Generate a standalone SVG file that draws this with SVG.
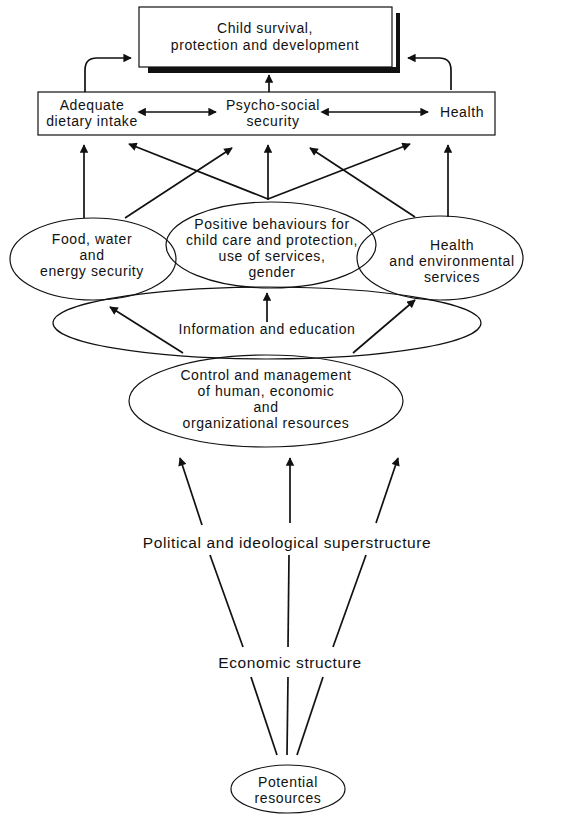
<svg xmlns="http://www.w3.org/2000/svg" width="569" height="815" viewBox="0 0 569 815">
<style>
text{font-family:"Liberation Sans",Arial,sans-serif;font-size:14px;letter-spacing:0.6px;fill:#111;text-anchor:middle}
text.big{font-size:15.5px;letter-spacing:0.6px}
.shape{fill:none;stroke:#111;stroke-width:1.2}
.c{fill:none;stroke:#111;stroke-width:1.7}
</style>
<defs>
<marker id="ah" viewBox="0 0 10 10" refX="9" refY="5" markerWidth="5.5" markerHeight="5" orient="auto" markerUnits="strokeWidth">
<path d="M0,0 L10,5 L0,10 Z" fill="#111"/>
</marker>
<marker id="as" viewBox="0 0 10 10" refX="1" refY="5" markerWidth="5.5" markerHeight="5" orient="auto-start-reverse" markerUnits="strokeWidth">
<path d="M0,0 L10,5 L0,10 Z" fill="#111"/>
</marker>
</defs>
<rect width="569" height="815" fill="#fff"/>

<g id="top">
<path d="M148,67 H396 V13 H400 V73 H148 Z" fill="#111"/>
<rect class="shape" x="139" y="7" width="253" height="60" fill="#fff"/>
<text x="265" y="33">Child survival,</text>
<text x="265" y="50">protection and development</text>
</g>

<g id="outcomes">
<rect class="shape" x="38" y="92" width="457" height="43" fill="#fff"/>
<text x="92" y="110">Adequate</text>
<text x="92" y="126">dietary intake</text>
<text x="273" y="110">Psycho-social</text>
<text x="273" y="126">security</text>
<text x="462" y="117">Health</text>
</g>

<g id="info">
<ellipse class="shape" cx="267" cy="323" rx="214" ry="36"/>
<text x="267" y="334">Information and education</text>
</g>

<g id="food">
<ellipse class="shape" cx="93" cy="259" rx="83" ry="41"/>
<text x="92" y="244">Food, water</text>
<text x="92" y="260">and</text>
<text x="92" y="276">energy security</text>
</g>

<g id="behaviours">
<ellipse class="shape" cx="271" cy="245" rx="105" ry="43"/>
<text x="272" y="229">Positive behaviours for</text>
<text x="272" y="245">child care and protection,</text>
<text x="272" y="261">use of services,</text>
<text x="272" y="277">gender</text>
</g>

<g id="health">
<ellipse class="shape" cx="440" cy="258" rx="83" ry="42"/>
<text x="452" y="250">Health</text>
<text x="452" y="266">and environmental</text>
<text x="452" y="282">services</text>
</g>

<g id="control">
<ellipse class="shape" cx="266" cy="401" rx="137" ry="46"/>
<text x="266" y="380">Control and management</text>
<text x="266" y="396">of human, economic</text>
<text x="266" y="412">and</text>
<text x="266" y="428">organizational resources</text>
</g>

<g id="political">
<text class="big" x="287" y="548">Political and ideological superstructure</text>
</g>

<g id="economic">
<text class="big" x="290" y="668">Economic structure</text>
</g>

<g id="potential">
<ellipse class="shape" cx="288" cy="789" rx="57" ry="24"/>
<text x="288" y="787">Potential</text>
<text x="288" y="803">resources</text>
</g>

<g id="connectors">
<path class="c" d="M85,92 V70 Q85,58 97,58 H131" marker-end="url(#ah)"/>
<path class="c" d="M451,90 V70 Q451,58 439,58 H408" marker-end="url(#ah)"/>
<line class="c" x1="269" y1="92" x2="269" y2="75" marker-end="url(#ah)"/>
<line class="c" x1="145" y1="112" x2="216" y2="112" marker-start="url(#as)" marker-end="url(#ah)"/>
<line class="c" x1="328" y1="112" x2="428" y2="112" marker-start="url(#as)" marker-end="url(#ah)"/>

<line class="c" x1="84" y1="218" x2="84" y2="145" marker-end="url(#ah)"/>
<line class="c" x1="448" y1="217" x2="448" y2="145" marker-end="url(#ah)"/>
<line class="c" x1="268" y1="200" x2="268" y2="145" marker-end="url(#ah)"/>
<line class="c" x1="268" y1="199" x2="129" y2="144" marker-end="url(#ah)"/>
<line class="c" x1="268" y1="199" x2="410" y2="144" marker-end="url(#ah)"/>
<line class="c" x1="125" y1="218" x2="232" y2="148" marker-end="url(#ah)"/>
<line class="c" x1="415" y1="217" x2="310" y2="148" marker-end="url(#ah)"/>

<line class="c" x1="183" y1="353" x2="110" y2="307" marker-end="url(#ah)"/>
<line class="c" x1="353" y1="353" x2="415" y2="300" marker-end="url(#ah)"/>
<line class="c" x1="267" y1="322" x2="267" y2="293" marker-end="url(#ah)"/>

<line class="c" x1="202" y1="525" x2="180" y2="458" marker-end="url(#ah)"/>
<line class="c" x1="290" y1="523" x2="290" y2="458" marker-end="url(#ah)"/>
<line class="c" x1="376" y1="523" x2="398" y2="458" marker-end="url(#ah)"/>

<line class="c" x1="210" y1="555" x2="243" y2="647"/>
<line class="c" x1="289" y1="555" x2="288" y2="647"/>
<line class="c" x1="366" y1="555" x2="333" y2="647"/>

<line class="c" x1="251" y1="677" x2="277" y2="755"/>
<line class="c" x1="288" y1="677" x2="287" y2="755"/>
<line class="c" x1="323" y1="677" x2="297" y2="755"/>
</g>
</svg>
